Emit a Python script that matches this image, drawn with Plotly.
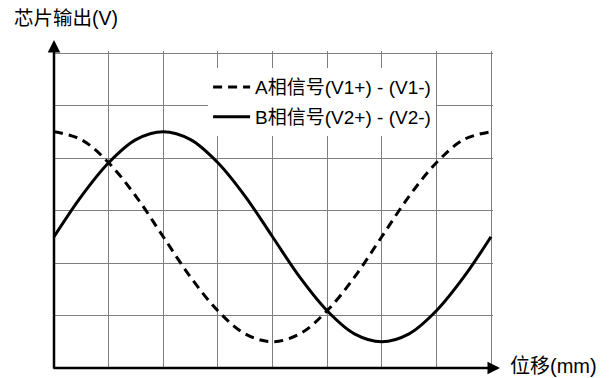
import plotly.graph_objects as go

# Posisi (satuan grid) dan nilai sinyal yang dibaca dari gambar
posisi = [0, 0.5, 1, 1.5, 2, 2.5, 3, 3.5, 4, 4.5, 5, 5.5, 6, 6.5, 7, 7.5, 8]
sinyal_a = [4.5, 4.35, 3.91, 3.27, 2.5, 1.73, 1.09, 0.65, 0.5,
            0.65, 1.09, 1.73, 2.5, 3.27, 3.91, 4.35, 4.5]
sinyal_b = [2.5, 3.27, 3.91, 4.35, 4.5, 4.35, 3.91, 3.27, 2.5,
            1.73, 1.09, 0.65, 0.5, 0.65, 1.09, 1.73, 2.5]

nama_a = "A相信号(V1+) - (V1-)"
nama_b = "B相信号(V2+) - (V2-)"
label_y = "芯片输出(V)"
label_x = "位移(mm)"

font_family = "Liberation Sans, Arial, Noto Sans CJK SC"

fig = go.Figure()

# Sinyal A (garis putus-putus)
fig.add_trace(go.Scatter(
    x=posisi, y=sinyal_a, name=nama_a, mode="lines", legendgroup="a",
    line=dict(color="black", width=3, dash="9px,6px", shape="spline"),
))
# Sinyal B (garis penuh)
fig.add_trace(go.Scatter(
    x=posisi, y=sinyal_b, name=nama_b, mode="lines", legendgroup="b",
    line=dict(color="black", width=3, shape="spline"),
))

# Sumbu dengan panah (halaman punya margin 8px, jadi ukuran figure dikurangi)
fig.add_annotation(x=0, y=328 / 317, ax=0, ay=330, xref="paper", yref="paper",
                   text="", showarrow=True, standoff=0,
                   arrowhead=2, arrowsize=1, arrowwidth=2.5, arrowcolor="black")
fig.add_annotation(x=446 / 439, y=0, ax=-448, ay=0, xref="paper", yref="paper",
                   text="", showarrow=True, standoff=0,
                   arrowhead=2, arrowsize=1, arrowwidth=2.5, arrowcolor="black")

# Label sumbu
fig.add_annotation(x=0, y=1, xref="paper", yref="paper", xshift=-42, yshift=33,
                   text=label_y, showarrow=False, xanchor="left", yanchor="middle",
                   font=dict(size=19.5, color="black", family=font_family))
fig.add_annotation(x=1, y=0, xref="paper", yref="paper", xshift=15, yshift=2,
                   text=label_x, showarrow=False, xanchor="left", yanchor="middle",
                   font=dict(size=20, color="black", family=font_family))

fig.update_layout(
    width=601, height=370,
    margin=dict(l=46, r=116, t=43, b=10),
    plot_bgcolor="white", paper_bgcolor="white",
    font=dict(family=font_family, size=19, color="black"),
    showlegend=True,
    legend=dict(
        x=0.351, y=0.946, xanchor="left", yanchor="top",
        bgcolor="white", borderwidth=0,
        font=dict(size=19, family=font_family),
        itemwidth=37, tracegroupgap=2,
    ),
    # Range diperlebar 2px agar garis grid tepi atas/kanan tetap digambar
    xaxis=dict(range=[0, 8 + 2 / 54.625], dtick=1, showticklabels=False, ticks="",
               showgrid=True, gridcolor="#7f7f7f", gridwidth=1,
               zeroline=False, showline=False),
    yaxis=dict(range=[0, 6 + 2 / 52.5], dtick=1, showticklabels=False, ticks="",
               showgrid=True, gridcolor="#7f7f7f", gridwidth=1,
               zeroline=False, showline=False),
)

fig.write_html("out.html")
